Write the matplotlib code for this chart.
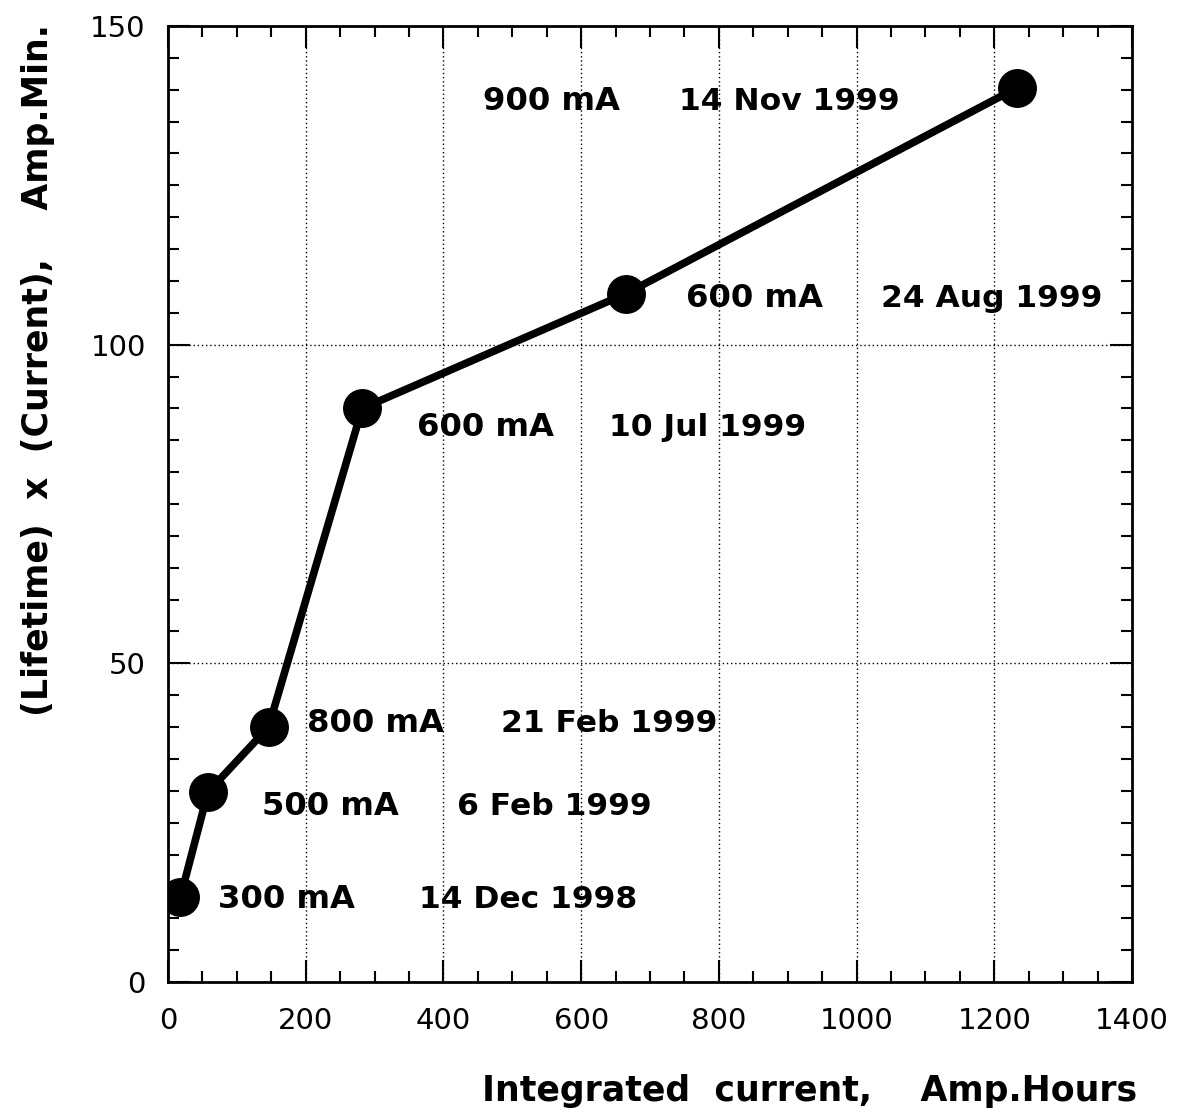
import matplotlib
matplotlib.use("Agg")
import matplotlib.pyplot as plt
from matplotlib.ticker import MultipleLocator

# Data
integrated_current = [18, 58, 146, 282, 665, 1233]      # Amp.Hours
lifetime_x_current = [13.3, 29.8, 40.0, 90.0, 108.0, 140.3]  # Amp.Min.
currents = ["300 mA", "500 mA", "800 mA", "600 mA", "600 mA", "900 mA"]
dates = ["14 Dec 1998", "6 Feb 1999", "21 Feb 1999", "10 Jul 1999", "24 Aug 1999", "14 Nov 1999"]
# label anchor positions (data coords): current label x, date label x, y
label_cur_x = [73, 137, 202, 362, 752, 458]
label_date_x = [364, 419, 483, 640, 1036, 742]
label_y = [12.9, 27.6, 40.6, 87.0, 107.2, 138.2]

plt.rcParams['font.family'] = ['DejaVu Sans']

fig = plt.figure(figsize=(11.8, 11.18), dpi=100)
ax = fig.add_axes([168/1180, 1-982/1118, (1132-168)/1180, (982-26)/1118])

ax.plot(integrated_current, lifetime_x_current, color='black', lw=5.5,
        marker='o', markersize=27, markerfacecolor='black', markeredgecolor='black',
        solid_capstyle='round', zorder=3)

for cx, dx, y, c, d in zip(label_cur_x, label_date_x, label_y, currents, dates):
    ax.text(cx, y, c, fontsize=23.2, fontweight='bold', ha='left', va='center', zorder=4)
    ax.text(dx, y, d, fontsize=22.6, fontweight='bold', ha='left', va='center', zorder=4)

ax.set_xlim(0, 1400)
ax.set_ylim(0, 150)
ax.xaxis.set_major_locator(MultipleLocator(200))
ax.xaxis.set_minor_locator(MultipleLocator(50))
ax.yaxis.set_major_locator(MultipleLocator(50))
ax.yaxis.set_minor_locator(MultipleLocator(5))

ax.grid(True, which='major', color='black', linestyle=(0, (1, 2)), linewidth=1.0)

ax.tick_params(which='both', direction='in', top=True, right=True, width=1.5)
ax.tick_params(which='major', length=16, labelsize=21)
ax.tick_params(which='minor', length=8)
ax.tick_params(axis='x', which='major', pad=18)
ax.tick_params(axis='y', which='major', pad=16)

for s in ax.spines.values():
    s.set_linewidth(2)

ax.set_xlabel("Integrated  current,    Amp.Hours", fontsize=25, fontweight='bold')
ax.xaxis.set_label_coords(0.666, -0.096)
ax.set_ylabel("(Lifetime)  x  (Current),    Amp.Min.", fontsize=25, fontweight='bold')
ax.yaxis.set_label_coords(-0.117, 0.64)

fig.savefig("out.png", dpi=100)
